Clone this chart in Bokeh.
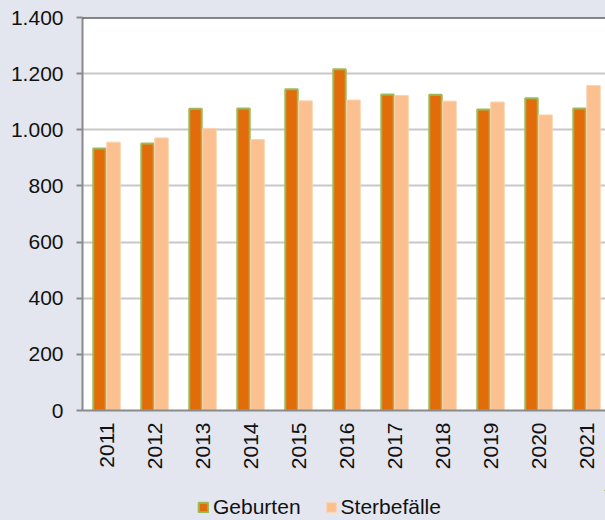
from bokeh.plotting import figure
from bokeh.models import (ColumnDataSource, FixedTicker, Legend, LegendItem, Span, Range1d)
from bokeh.layouts import column
from bokeh.embed import file_html
from bokeh.resources import INLINE
import math

years = ["2011", "2012", "2013", "2014", "2015", "2016", "2017", "2018", "2019", "2020", "2021"]
geburten = [933, 951, 1075, 1076, 1144, 1216, 1126, 1125, 1072, 1112, 1076]
sterbefaelle = [956, 971, 1005, 965, 1103, 1106, 1122, 1102, 1099, 1053, 1158]
y_ticks = [0, 200, 400, 600, 800, 1000, 1200, 1400]
y_labels = ["0", "200", "400", "600", "800", "1.000", "1.200", "1.400"]
series_names = ["Geburten", "Sterbefälle"]

FONT = "Liberation Sans"
BG = "#e3e6ee"
GEB_STYLE = dict(fill_color="#e36c0a", line_color="#9bbb59", line_width=2)
STE_STYLE = dict(fill_color="#fac090", line_color="#fcd3b2", line_width=1)

xc = [i + 0.5 for i in range(len(years))]
src = ColumnDataSource(dict(
    xg=[v - 7 / 48 for v in xc],
    xs=[v + 7 / 48 for v in xc],
    geb=geburten,
    ste=sterbefaelle,
))

p = figure(width=605, height=490, output_backend="svg", toolbar_location=None,
           x_range=Range1d(0, 523 / 48), y_range=Range1d(0, 1400),
           min_border_left=82, min_border_right=0, min_border_top=17, min_border_bottom=80)
p.background_fill_color = "white"
p.border_fill_color = BG
p.outline_line_color = None

p.vbar(x="xg", top="geb", width=12.5 / 48, source=src, **GEB_STYLE)
p.vbar(x="xs", top="ste", width=13.5 / 48, source=src, **STE_STYLE)

# axes
p.xaxis.ticker = FixedTicker(ticks=xc)
p.xaxis.major_label_overrides = {x: y for x, y in zip(xc, years)}
p.xaxis.major_label_orientation = math.pi / 2
p.xaxis.major_label_text_font = FONT
p.xaxis.major_label_text_font_size = "21px"
p.xaxis.major_label_text_color = "#111111"
p.xaxis.major_tick_out = 0
p.xaxis.major_tick_in = 0
p.xaxis.minor_tick_out = 0
p.xaxis.minor_tick_in = 0
p.xaxis.major_label_standoff = 12
p.xaxis.axis_line_color = "#8a8a8a"
p.xaxis.axis_line_width = 2

p.yaxis.ticker = FixedTicker(ticks=y_ticks)
p.yaxis.major_label_overrides = {t: l for t, l in zip(y_ticks, y_labels)}
p.yaxis.major_label_text_font = FONT
p.yaxis.major_label_text_font_size = "21px"
p.yaxis.major_label_text_color = "#111111"
p.yaxis.major_tick_out = 6
p.yaxis.major_tick_in = 0
p.yaxis.minor_tick_out = 0
p.yaxis.minor_tick_in = 0
p.yaxis.major_tick_line_color = "#8a8a8a"
p.yaxis.major_tick_line_width = 2
p.yaxis.major_label_standoff = 13
p.yaxis.axis_line_color = "#8a8a8a"
p.yaxis.axis_line_width = 2

p.xgrid.grid_line_color = None
p.ygrid.grid_line_color = "#c8c8c8"
p.ygrid.grid_line_width = 2

p.add_layout(Span(location=1400, dimension="width", line_color="#111111", line_width=2))

# legend strip (its bars lie outside its visible ranges; only the legend shows)
lf = figure(width=605, height=30, output_backend="svg", toolbar_location=None,
            x_range=Range1d(-200, -190), y_range=Range1d(-30000, -20000),
            x_axis_type=None, y_axis_type=None,
            min_border_left=82, min_border_right=0, min_border_top=0, min_border_bottom=0)
lf.background_fill_color = BG
lf.border_fill_color = BG
lf.outline_line_color = None
lf.xgrid.grid_line_color = None
lf.ygrid.grid_line_color = None
lr1 = lf.vbar(x="xg", top="geb", width=12.5 / 48, source=src, **GEB_STYLE)
lr2 = lf.vbar(x="xs", top="ste", width=13.5 / 48, source=src, **STE_STYLE)

legend = Legend(items=[LegendItem(label=series_names[0], renderers=[lr1]),
                       LegendItem(label=series_names[1], renderers=[lr2])],
                orientation="horizontal", location=(115, 1),
                glyph_width=12, glyph_height=12, label_standoff=4, spacing=24,
                padding=0, margin=0, border_line_color=None, background_fill_alpha=0,
                label_text_font=FONT, label_text_font_size="21px", label_text_color="#111111")
lf.add_layout(legend, "center")

layout = column(p, lf, spacing=0, styles={"background-color": BG})
open("out.html", "w").write(file_html(layout, INLINE))
